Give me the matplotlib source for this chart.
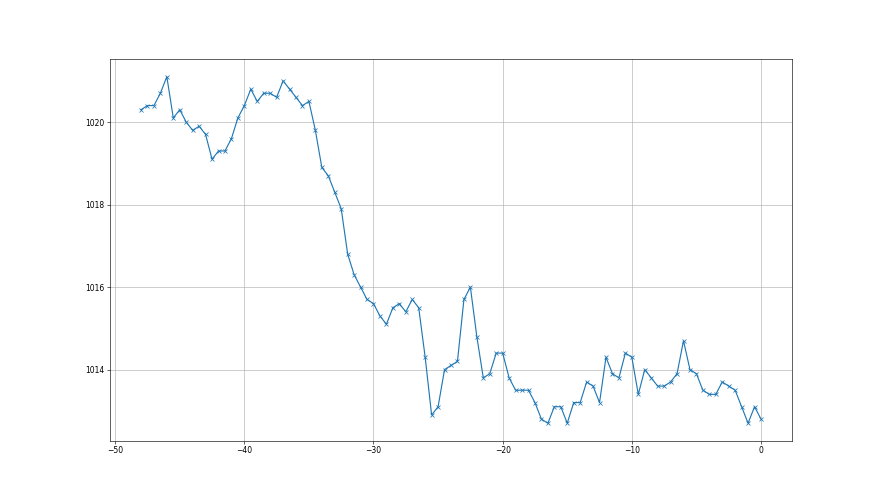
import numpy as np
import matplotlib
matplotlib.use('Agg')
import matplotlib.pyplot as plt

hours = np.arange(-48, 0.5, 0.5)
pressure = [1020.3, 1020.4, 1020.4, 1020.7, 1021.1, 1020.1, 1020.3, 1020.0, 1019.8, 1019.9,
            1019.7, 1019.1, 1019.3, 1019.3, 1019.6, 1020.1, 1020.4, 1020.8, 1020.5, 1020.7,
            1020.7, 1020.6, 1021.0, 1020.8, 1020.6, 1020.4, 1020.5, 1019.8, 1018.9, 1018.7,
            1018.3, 1017.9, 1016.8, 1016.3, 1016.0, 1015.7, 1015.6, 1015.3, 1015.1, 1015.5,
            1015.6, 1015.4, 1015.7, 1015.5, 1014.3, 1012.9, 1013.1, 1014.0, 1014.1, 1014.2,
            1015.7, 1016.0, 1014.8, 1013.8, 1013.9, 1014.4, 1014.4, 1013.8, 1013.5, 1013.5,
            1013.5, 1013.2, 1012.8, 1012.7, 1013.1, 1013.1, 1012.7, 1013.2, 1013.2, 1013.7,
            1013.6, 1013.2, 1014.3, 1013.9, 1013.8, 1014.4, 1014.3, 1013.4, 1014.0, 1013.8,
            1013.6, 1013.6, 1013.7, 1013.9, 1014.7, 1014.0, 1013.9, 1013.5, 1013.4, 1013.4,
            1013.7, 1013.6, 1013.5, 1013.1, 1012.7, 1013.1, 1012.8]

plt.figure(figsize=(16, 9), dpi=55)
plt.plot(hours, pressure, marker='x')
plt.grid()
plt.savefig('out.png', dpi=55)
